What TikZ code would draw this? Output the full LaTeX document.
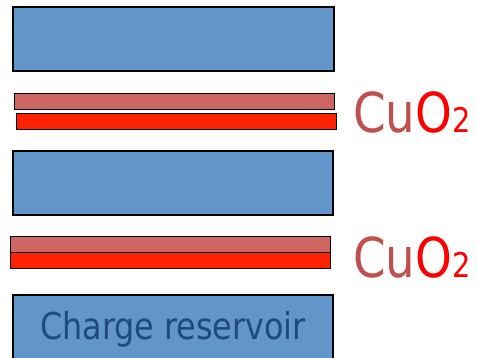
\documentclass[tikz,border=0pt]{standalone}
\usepackage{fontspec}
\setmainfont{DejaVu Sans}
\definecolor{blk}{HTML}{6295C8}
\definecolor{cuA}{HTML}{CD6660}
\definecolor{cuB}{HTML}{FF2200}
\definecolor{cuT}{HTML}{C0504D}
\definecolor{txtb}{HTML}{1F4A7D}
\begin{document}
\begin{tikzpicture}[x=1pt,y=-1pt,
  block/.style={draw=black,line width=1.2pt,fill=blk},
  layerA/.style={draw=black,line width=1pt,fill=cuA},
  layerB/.style={draw=black,line width=1pt,fill=cuB},
  lab/.style={anchor=base west,inner sep=0pt,xscale=0.85}]
\useasboundingbox (0,0) rectangle (477,358);
\fill[white] (0,0) rectangle (477,358);
\begin{scope}
\clip (0,0) rectangle (477,358);
\draw[block] (13,7) rectangle (334,71);
\draw[layerA] (14,94) rectangle (334,110);
\draw[layerB] (16,114) rectangle (336,130);
\draw[block] (13,151) rectangle (333,215);
\draw[layerA] (10,237) rectangle (330,253);
\draw[layerB] (10,253) rectangle (330,269);
\draw[block] (13,295) rectangle (333,370);
\end{scope}
\node[text=txtb,font=\fontsize{37}{42}\selectfont,xscale=0.86,anchor=base,inner sep=0pt] (cr) at (173,340) {Charge reservoir};
\node[lab] (c1) at (353,133) {\fontsize{55}{60}\selectfont\color{cuT}Cu\color{red}O\fontsize{34}{38}\selectfont 2};
\node[lab] (c2) at (353,278) {\fontsize{55}{60}\selectfont\color{cuT}Cu\color{red}O\fontsize{34}{38}\selectfont 2};
\end{tikzpicture}
\end{document}
